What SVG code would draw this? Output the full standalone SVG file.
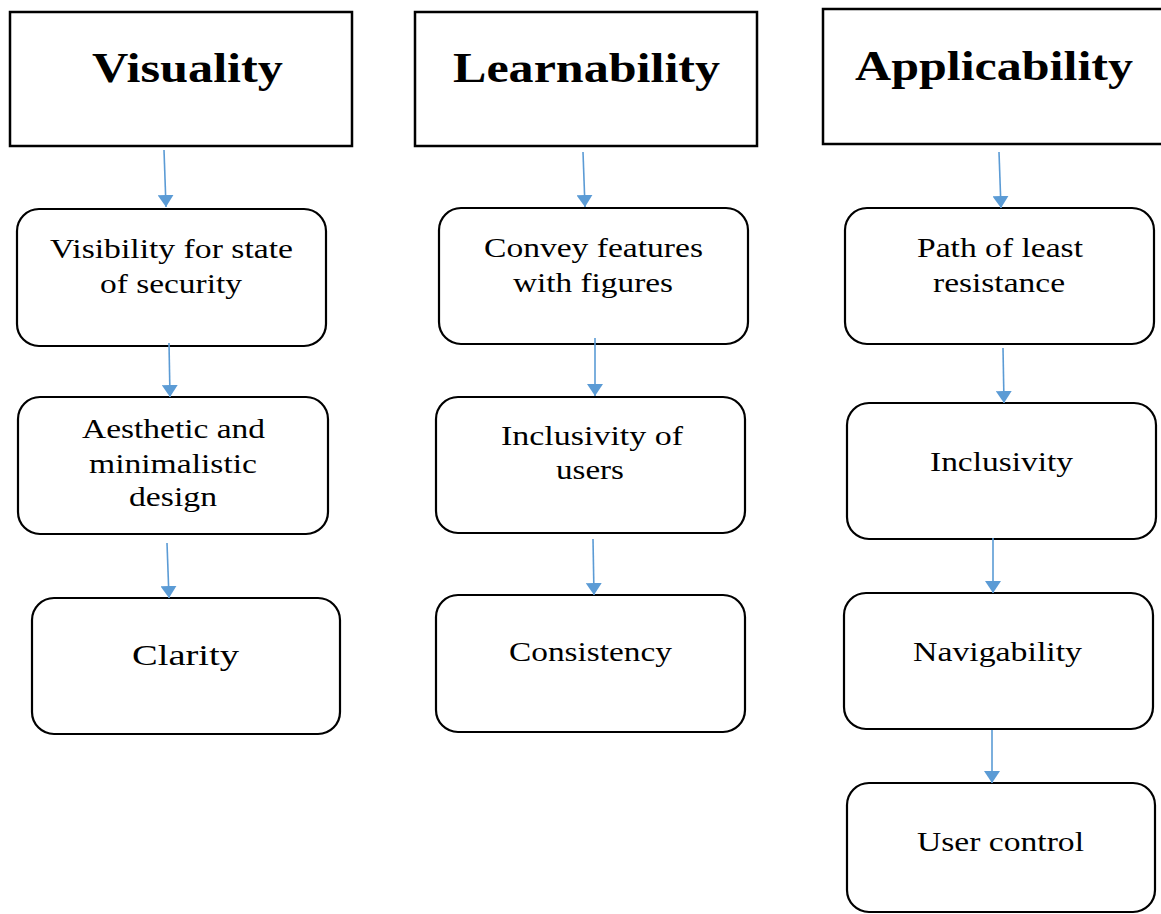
<svg xmlns="http://www.w3.org/2000/svg" width="1161" height="914" viewBox="0 0 1161 914">
  <style>
    .head { fill: #ffffff; stroke: #000000; stroke-width: 2.5; }
    .item { fill: #ffffff; stroke: #000000; stroke-width: 2.2; }
    .htxt { font-family: "Liberation Serif", "Times New Roman", serif; font-weight: bold; font-size: 43px; fill: #000000; }
    .txt { font-family: "Liberation Serif", "Times New Roman", serif; font-size: 27px; fill: #000000; }
    .big { font-size: 30px; }
    .link { stroke: #5B9BD5; stroke-width: 1.6; fill: none; marker-end: url(#arrow); }
  </style>
  <defs>
    <marker id="arrow" viewBox="0 0 12 16" markerWidth="12" markerHeight="16" refX="12" refY="8" orient="auto" markerUnits="userSpaceOnUse">
      <path d="M0,0 L12,8 L0,16 z" fill="#5B9BD5"/>
    </marker>
  </defs>
  <rect width="1161" height="914" fill="#ffffff"/>

  <!-- column 1: Visuality -->
  <g id="visuality">
    <rect class="head" x="10" y="12" width="342" height="134"/>
    <text class="htxt" x="92" y="82" textLength="191" lengthAdjust="spacingAndGlyphs">Visuality</text>
  </g>
  <g id="visibility">
    <rect class="item" x="17" y="209" width="309" height="137" rx="22" ry="22"/>
    <text class="txt" x="50" y="258" textLength="243" lengthAdjust="spacingAndGlyphs">Visibility for state</text>
    <text class="txt" x="100" y="293" textLength="142" lengthAdjust="spacingAndGlyphs">of security</text>
  </g>
  <g id="aesthetic">
    <rect class="item" x="18" y="397" width="310" height="137" rx="22" ry="22"/>
    <text class="txt" x="82" y="438" textLength="183" lengthAdjust="spacingAndGlyphs">Aesthetic and</text>
    <text class="txt" x="89" y="473" textLength="168" lengthAdjust="spacingAndGlyphs">minimalistic</text>
    <text class="txt" x="129" y="506" textLength="88" lengthAdjust="spacingAndGlyphs">design</text>
  </g>
  <g id="clarity">
    <rect class="item" x="32" y="598" width="308" height="136" rx="22" ry="22"/>
    <text class="txt big" x="132" y="665" textLength="107" lengthAdjust="spacingAndGlyphs">Clarity</text>
  </g>

  <!-- column 2: Learnability -->
  <g id="learnability">
    <rect class="head" x="415" y="12" width="342" height="134"/>
    <text class="htxt" x="453" y="82" textLength="267" lengthAdjust="spacingAndGlyphs">Learnability</text>
  </g>
  <g id="convey">
    <rect class="item" x="439" y="208" width="309" height="136" rx="22" ry="22"/>
    <text class="txt" x="484" y="257" textLength="219" lengthAdjust="spacingAndGlyphs">Convey features</text>
    <text class="txt" x="513" y="292" textLength="160" lengthAdjust="spacingAndGlyphs">with figures</text>
  </g>
  <g id="inclusivity-users">
    <rect class="item" x="436" y="397" width="309" height="136" rx="22" ry="22"/>
    <text class="txt" x="501" y="445" textLength="182" lengthAdjust="spacingAndGlyphs">Inclusivity of</text>
    <text class="txt" x="556" y="479" textLength="68" lengthAdjust="spacingAndGlyphs">users</text>
  </g>
  <g id="consistency">
    <rect class="item" x="436" y="595" width="309" height="137" rx="22" ry="22"/>
    <text class="txt" x="509" y="661" textLength="163" lengthAdjust="spacingAndGlyphs">Consistency</text>
  </g>

  <!-- column 3: Applicability -->
  <g id="applicability">
    <rect class="head" x="823" y="9" width="350" height="135"/>
    <text class="htxt" x="855" y="80" textLength="278" lengthAdjust="spacingAndGlyphs">Applicability</text>
  </g>
  <g id="least-resistance">
    <rect class="item" x="845" y="208" width="309" height="136" rx="22" ry="22"/>
    <text class="txt" x="917" y="257" textLength="166" lengthAdjust="spacingAndGlyphs">Path of least</text>
    <text class="txt" x="933" y="292" textLength="132" lengthAdjust="spacingAndGlyphs">resistance</text>
  </g>
  <g id="inclusivity">
    <rect class="item" x="847" y="403" width="309" height="136" rx="22" ry="22"/>
    <text class="txt" x="930" y="471" textLength="143" lengthAdjust="spacingAndGlyphs">Inclusivity</text>
  </g>
  <g id="navigability">
    <rect class="item" x="844" y="593" width="309" height="136" rx="22" ry="22"/>
    <text class="txt" x="913" y="661" textLength="169" lengthAdjust="spacingAndGlyphs">Navigability</text>
  </g>
  <g id="user-control">
    <rect class="item" x="847" y="783" width="308" height="129" rx="22" ry="22"/>
    <text class="txt" x="917" y="851" textLength="167" lengthAdjust="spacingAndGlyphs">User control</text>
  </g>

  <!-- connectors -->
  <g id="connectors">
    <line class="link" x1="164" y1="150" x2="166" y2="207"/>
    <line class="link" x1="169" y1="343" x2="170" y2="397"/>
    <line class="link" x1="167" y1="543" x2="169" y2="598"/>
    <line class="link" x1="583" y1="152" x2="585" y2="207"/>
    <line class="link" x1="595" y1="338" x2="595" y2="396"/>
    <line class="link" x1="593" y1="539" x2="594" y2="595"/>
    <line class="link" x1="999" y1="152" x2="1001" y2="208"/>
    <line class="link" x1="1003" y1="348" x2="1004" y2="403"/>
    <line class="link" x1="993" y1="538" x2="993" y2="593"/>
    <line class="link" x1="992" y1="730" x2="992" y2="783"/>
  </g>
</svg>
